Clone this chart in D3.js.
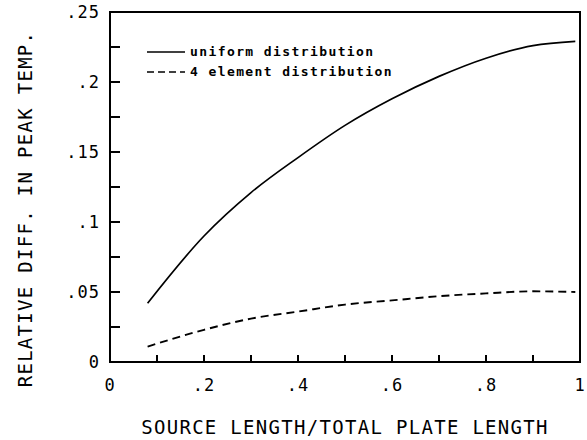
<!DOCTYPE html>
<html>
<head>
<meta charset="utf-8">
<script src="https://cdn.jsdelivr.net/npm/d3@7"></script>
<style>
  body { margin: 0; background: #fff; }
  svg text { font-family: "DejaVu Sans Mono", monospace; fill: #000; }
</style>
</head>
<body>
<svg id="chart"></svg>
<script>
// data
const xVals = [0.08, 0.2, 0.3, 0.4, 0.5, 0.6, 0.7, 0.8, 0.9, 0.99]
const uniformVals = [0.042, 0.090, 0.121, 0.146, 0.169, 0.188, 0.204, 0.217, 0.226, 0.229]
const fourElementVals = [0.011, 0.023, 0.031, 0.036, 0.041, 0.044, 0.047, 0.049, 0.0505, 0.050]
const seriesNames = ["uniform distribution", "4 element distribution"]
const xTicks = [0, .1, .2, .3, .4, .5, .6, .7, .8, .9, 1]
const xLabels = [0, .2, .4, .6, .8, 1]
const yTicks = [0, .025, .05, .075, .1, .125, .15, .175, .2, .225, .25]
const yLabels = [0, .05, .1, .15, .2, .25]

const W = 587, H = 440
const mLeft = 110, mRight = 580, mTop = 12, mBottom = 362

const svg = d3.select('#chart').attr('width', W).attr('height', H)

const x = d3.scaleLinear().domain([0, 1]).range([mLeft, mRight])
const y = d3.scaleLinear().domain([0, 0.25]).range([mBottom, mTop])

// strip the leading zero like the old plotter does
const fmt = v => v === 0 ? "0" : d3.format(".2~f")(v).replace(/^0/, "")

// frame
svg.append('rect')
  .attr('x', x(0)).attr('y', y(0.25))
  .attr('width', x(1) - x(0)).attr('height', y(0) - y(0.25))
  .attr('fill', 'none').attr('stroke', '#000').attr('stroke-width', 2)

// tick marks, pointing inward (drawn as small filled bars)
svg.append('g').selectAll('rect').data(xTicks).join('rect')
  .attr('x', d => x(d) - 1).attr('y', mBottom - 7)
  .attr('width', 2).attr('height', 7)
  .attr('fill', '#000')

svg.append('g').selectAll('rect').data(yTicks).join('rect')
  .attr('x', mLeft).attr('y', d => y(d) - 1)
  .attr('width', 10).attr('height', 2)
  .attr('fill', '#000')

// tick labels
svg.append('g').selectAll('text').data(xLabels).join('text')
  .attr('x', d => x(d)).attr('y', 391)
  .attr('text-anchor', 'middle')
  .style('font-size', '17px').style('letter-spacing', '1px')
  .text(fmt)

svg.append('g').selectAll('text').data(yLabels).join('text')
  .attr('x', 100).attr('y', d => y(d) + 6)
  .attr('text-anchor', 'end')
  .style('font-size', '17px').style('letter-spacing', '1px')
  .text(fmt)

const line = d3.line()
  .x((d, i) => x(xVals[i]))
  .y(d => y(d))
  .curve(d3.curveMonotoneX)

svg.append('path').datum(uniformVals)
  .attr('d', line).attr('fill', 'none')
  .attr('stroke', '#000').attr('stroke-width', 1.7)

svg.append('path').datum(fourElementVals)
  .attr('d', line).attr('fill', 'none')
  .attr('stroke', '#000').attr('stroke-width', 1.9)
  .attr('stroke-dasharray', '8,5')

// legend
const legend = svg.append('g')
seriesNames.forEach((name, i) => {
  const ly = 52 + i * 20
  legend.append('line')
    .attr('x1', 147).attr('x2', 185).attr('y1', ly).attr('y2', ly)
    .attr('stroke', '#000').attr('stroke-width', 1.6)
    .attr('stroke-dasharray', i === 1 ? '7,4' : null)
  legend.append('text')
    .attr('x', 190).attr('y', ly + 4)
    .style('font-size', '13px').style('font-weight', 'bold')
    .style('letter-spacing', '1.4px')
    .text(name)
})

// axis titles
svg.append('text')
  .attr('x', (mLeft + mRight) / 2).attr('y', 434)
  .attr('text-anchor', 'middle')
  .style('font-size', '19px').style('letter-spacing', '1.3px')
  .text('SOURCE LENGTH/TOTAL PLATE LENGTH')

svg.append('text')
  .attr('transform', 'translate(32,209) rotate(-90)')
  .attr('text-anchor', 'middle')
  .style('font-size', '19px').style('letter-spacing', '1.3px')
  .text('RELATIVE DIFF. IN PEAK TEMP.')
</script>
</body>
</html>
